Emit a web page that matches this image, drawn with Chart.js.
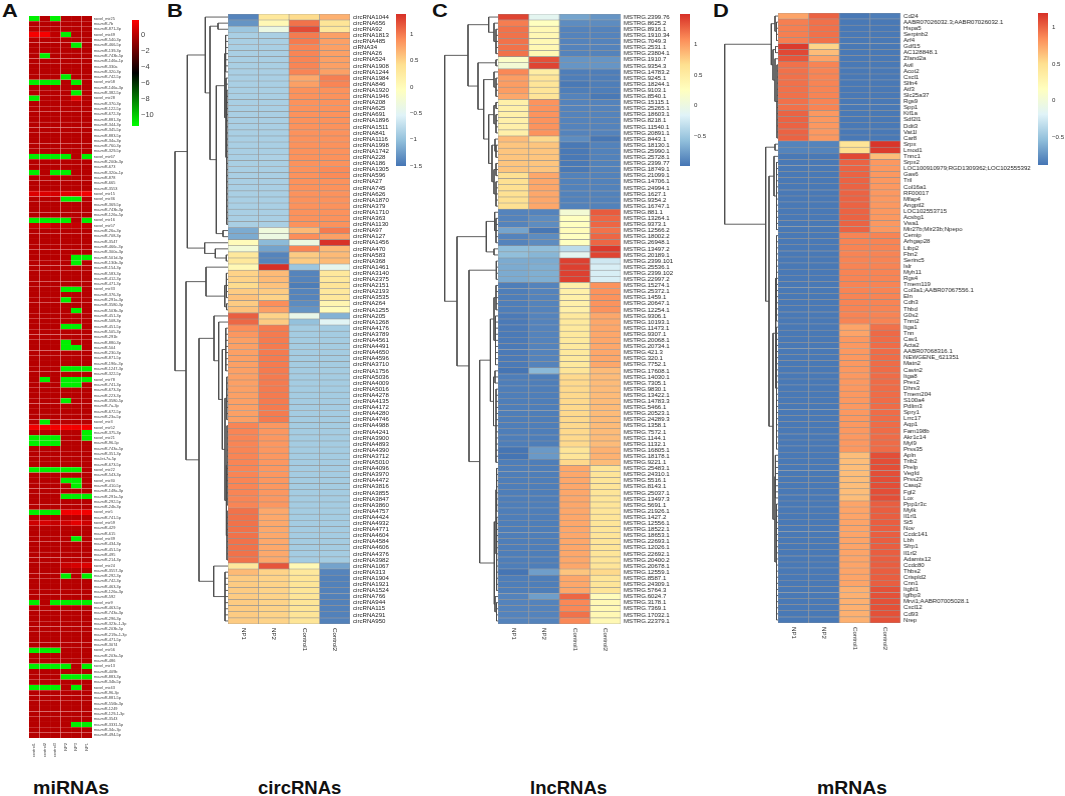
<!DOCTYPE html>
<html>
<head>
<meta charset="utf-8">
<title>miRNAs, circRNAs, lncRNAs, mRNAs heatmaps</title>
<script src="https://cdn.jsdelivr.net/npm/chart.js@4"></script>
<style>
  html, body { margin: 0; padding: 0; background: #fff; width: 1065px; height: 796px; overflow: hidden; }
  #page { position: relative; width: 1065px; height: 796px; font-family: "Liberation Sans", Arial, sans-serif; }
  canvas { position: absolute; }
  .letter { position: absolute; font-weight: bold; font-size: 17.5px; line-height: 1; color: #111; transform: scaleX(1.25); transform-origin: left top; }
  .title { position: absolute; font-weight: bold; font-size: 18.5px; line-height: 1; color: #111; transform-origin: left top; white-space: nowrap; }
</style>
</head>
<body>
<div id="page">
  <div class="letter" style="left:2px;top:3px">A</div>
  <div class="letter" style="left:167px;top:3px">B</div>
  <div class="letter" style="left:432px;top:3px">C</div>
  <div class="letter" style="left:713px;top:3px">D</div>
  <div class="title" style="left:33px;top:779px;transform:scaleX(1.06)">miRNAs</div>
  <div class="title" style="left:258px;top:779px">circRNAs</div>
  <div class="title" style="left:530px;top:779px">lncRNAs</div>
  <div class="title" style="left:817px;top:779px;transform:scaleX(1.05)">mRNAs</div>
</div>
<script>
// ---- panel A: miRNAs ----
const samplesA = ['control1', 'control2', 'control3', 'NP2', 'NP3', 'NP1'];
const rowsA = [
  'novel_mir25','rno-miR-7b','rno-miR-871-3p','novel_mir49','rno-miR-540-3p','rno-miR-466-5p','rno-miR-139-3p','rno-miR-743b-5p','rno-miR-146a-1p','rno-miR-330a',
  'rno-miR-320-3p','rno-miR-742-5p','novel_mir58','rno-miR-146a-3p','rno-miR-382-5p','novel_mir28','rno-miR-370-3p','rno-miR-122-5p','rno-miR-672-3p','rno-miR-881-3p',
  'rno-miR-344-3p','rno-miR-345-5p','rno-miR-883-5p','rno-miR-34a-3p','rno-miR-760-3p','rno-miR-329-5p','novel_mir67','rno-miR-200b-3p','rno-miR-673','rno-miR-320a-1p',
  'rno-miR-878','rno-miR-665','rno-miR-3553','novel_mir15','novel_mir36','rno-miR-369-5p','rno-miR-743b-3p','rno-miR-126a-5p','novel_mir16','novel_mir57',
  'rno-miR-26a-3p','rno-miR-708-3p','rno-miR-3547','rno-miR-466c-3p','rno-miR-300a-3p','rno-miR-501d-3p','rno-miR-130b-3p','rno-miR-154-3p','rno-miR-583-3p','rno-miR-412-3p',
  'rno-miR-471-3p','novel_mir33','rno-miR-376-3p','rno-miR-291a-3p','rno-miR-3580-3p','rno-miR-503b-3p','rno-miR-451-3p','rno-miR-508-3p','rno-miR-451-5p','rno-miR-505-3p',
  'rno-miR-291b','rno-miR-880-3p','rno-miR-504','rno-miR-230-3p','rno-miR-871-5p','rno-miR-196c-3p','rno-miR-1247-3p','rno-miR-322-5p','novel_mir78','rno-miR-741-3p',
  'rno-miR-673-3p','rno-miR-223-3p','rno-miR-3580-5p','rno-miR-7a-3p','rno-miR-672-5p','rno-miR-23a-5p','novel_mir3','novel_mir52','rno-miR-375-3p','novel_mir21',
  'rno-miR-96-5p','rno-miR-743a-5p','rno-miR-351-3p','rno-let-7a-5p','rno-miR-673-5p','novel_mir22','rno-miR-543-3p','novel_mir30','rno-miR-410-5p','rno-miR-148a-3p',
  'rno-miR-291a-5p','rno-miR-292-5p','rno-miR-24b-3p','novel_mir5','rno-miR-741-5p','novel_mir59','rno-miR-429','rno-miR-615','novel_mir39','rno-miR-434-3p',
  'rno-miR-451-5p','rno-miR-495','rno-miR-214-3p','novel_mir24','rno-miR-3557-3p','rno-miR-292-3p','rno-miR-742-3p','rno-miR-463-3p','rno-miR-126a-3p','rno-miR-592',
  'novel_mir9','rno-miR-463-5p','rno-miR-743a-3p','rno-miR-296-3p','rno-miR-323c-1-3p','rno-miR-203b-5p','rno-miR-219a-1-3p','rno-miR-471-5p','rno-miR-3074','novel_mir56',
  'rno-miR-203a-5p','rno-miR-486','novel_mir13','rno-miR-409b','rno-miR-883-3p','rno-miR-34b-5p','novel_mir43','rno-miR-96-3p','rno-miR-881-5p','rno-miR-556b-3p',
  'rno-miR-1249','rno-miR-129-1-3p','rno-miR-3543','rno-miR-3331-5p','rno-miR-34c-3p','rno-miR-494-5p'
];
const control1A = [
  -11,0,0,1.7,0,0,0,0,0,0, 0,0,-11,0,0,-11,0,0,0,0, 0,0,0,0,0,0,-11,0,0,-11, 0,0,0,1,0,0,0,0,-11,.5,
  0,0,0,0,0,0,0,0,0,0, 0,0,0,0,0,0,0,0,0,0, 0,0,0,0,0,0,0,0,0,0, 0,0,0,0,0,0,0,1.6,0,-11,
  -11,0,0,0,0,-11,0,0,0,0, 0,0,0,-11,0,.6,0,0,0,0, 0,0,0,0,0,0,0,0,0,0, -11,0,0,0,0,0,0,0,0,-11,
  0,0,-11,0,0,0,-11,0,0,0, 0,0,0,0,0,0
];
const control2A = [
  0,0,0,1.7,0,0,0,-11,0,0, 0,0,-11,0,0,0,0,0,0,0, 0,0,0,0,0,0,-11,0,0,0, 0,0,0,1,0,0,0,0,-11,1.2,
  0,0,0,0,0,0,0,0,0,0, 0,0,0,0,0,0,0,0,0,0, 0,0,0,0,0,0,0,0,-11,0, 0,0,0,0,0,0,-11,1.6,0,-11,
  -11,0,0,0,0,-11,0,0,0,0, 0,0,0,-11,0,.8,0,0,0,0, 0,0,0,0,0,0,0,0,0,0, 0,0,0,0,0,0,0,0,0,-11,
  0,0,-11,0,0,0,-11,0,0,0, 0,0,0,0,0,0
];
const control3A = [
  -11,0,0,.2,0,0,0,0,0,0, 0,0,-11,0,0,0,0,0,0,0, 0,0,0,0,0,0,-11,0,0,-11, 0,0,0,.8,0,0,0,0,-11,.3,
  0,0,0,0,0,0,0,0,0,0, 0,0,0,0,0,0,0,0,0,0, 0,0,0,0,0,0,0,0,0,0, 0,0,0,0,0,0,0,1.6,0,-11,
  -11,0,0,0,0,-11,0,0,0,0, 0,0,0,-11,0,.4,0,0,0,0, 0,0,0,0,0,0,0,0,0,0, -11,0,0,0,0,0,0,0,0,-11,
  0,0,-11,0,0,0,-11,0,0,0, 0,0,0,0,0,0
];
const np2A = [
  0,0,0,-11,0,0,0,0,0,0, 0,-11,0,0,0,0,0,0,0,0, 0,0,0,0,0,0,-11,0,0,-11, 0,0,0,1.2,-11,0,0,0,-11,.4,
  0,0,0,0,0,0,0,0,0,0, 0,-11,0,-11,0,0,0,0,-11,0, 0,-11,-11,0,0,0,-11,0,-11,-11, 0,0,-11,0,0,0,0,1.6,0,0,
  0,0,0,0,0,-11,0,-11,0,0, -11,0,0,1.5,0,.6,0,0,0,0, 0,0,0,.5,0,-11,0,0,0,0, -11,0,0,0,0,0,0,0,0,0,
  0,0,-11,0,-11,0,0,0,0,0, 0,0,0,0,0,0
];
const np3A = [
  0,0,0,0,0,-11,0,0,0,0, 0,0,-11,0,-11,1.2,0,0,0,0, 0,0,0,0,0,0,0,0,0,0, 0,0,0,1.3,-11,0,0,0,0,.4,
  0,0,0,0,0,-11,-11,0,0,0, 0,-11,0,0,0,-11,0,0,-11,0, 0,0,-11,0,0,0,-11,0,-11,-11, 0,0,0,0,0,0,0,1.6,0,0,
  0,0,0,0,0,-11,0,-11,-11,0, -11,0,0,1.6,0,1.2,0,0,-11,0, 0,0,0,.8,0,0,0,0,0,0, -11,0,0,0,0,0,0,0,0,0,
  0,0,0,0,-11,0,-11,0,0,0, 0,0,0,-11,0,0
];
const np1A = [
  0,0,0,0,0,0,0,0,0,0, 0,0,0,0,0,0,0,0,0,0, 0,0,0,0,0,0,-11,0,0,0, 0,0,0,1.6,0,0,0,0,-11,.4,
  0,0,0,0,0,-11,0,0,0,0, 0,0,0,0,0,0,0,0,0,0, 0,0,0,0,0,0,-11,0,-11,0, 0,0,0,0,0,0,0,1.6,-11,-11,
  0,0,0,0,0,0,0,0,0,0, -11,0,0,1.6,0,.6,0,0,0,0, 0,0,0,1,0,-11,0,0,0,0, -11,0,0,0,0,0,0,0,0,0,
  0,0,-11,0,-11,0,0,0,0,0, 0,0,0,-11,0,0
];

// ---- panel B: circRNAs ----
const samplesB = ['NP1', 'NP2', 'Control1', 'Control2'];
const rowsB = [
  'circRNA1044','circRNA656','circRNA92','circRNA1813','circRNA485','ciRNA34','circRNA26','circRNA524','circRNA1908','circRNA1244',
  'circRNA1984','circRNA846','circRNA1920','circRNA1946','circRNA208','circRNA625','circRNA691','circRNA1896','circRNA1511','circRNA841',
  'circRNA1116','circRNA1998','circRNA1742','circRNA228','circRNA186','circRNA1305','circRNA596','circRNA27','circRNA745','circRNA626',
  'circRNA1870','circRNA379','circRNA1710','circRNA363','circRNA1130','circRNA97','circRNA127','circRNA1456','circRNA470','circRNA583',
  'circRNA368','circRNA1461','circRNA3140','circRNA2375','circRNA2151','circRNA2193','circRNA3535','circRNA264','circRNA1255','circRNA205',
  'circRNA1268','circRNA4176','circRNA3789','circRNA4561','circRNA4491','circRNA4650','circRNA4596','circRNA3710','circRNA1756','circRNA5036',
  'circRNA4009','circRNA5016','circRNA4278','circRNA4135','circRNA4172','circRNA4280','circRNA4746','circRNA4988','circRNA4241','circRNA3900',
  'circRNA4893','circRNA4390','circRNA3712','circRNA5010','circRNA4096','circRNA3970','circRNA4472','circRNA3816','circRNA3855','circRNA3847',
  'circRNA3860','circRNA4757','circRNA4424','circRNA4932','circRNA4771','circRNA4604','circRNA4584','circRNA4606','circRNA4376','circRNA3982',
  'circRNA1067','circRNA313','circRNA1904','circRNA1921','circRNA1524','circRNA766','circRNA944','circRNA115','circRNA291','circRNA950'
];
const np1B = [
  -1.4,-1.3,-.95,-.87,-.87,-.87,-.87,-.87,-.87,-.87, -.87,-.87,-.87,-.87,-.87,-.87,-.87,-.87,-.87,-.87,
  -.87,-.87,-.87,-.87,-.87,-.87,-.87,-.87,-.87,-.87, -.87,-.87,-.87,-.87,-.87,-1.15,-1.15,0,-.25,.3,
  .3,.05,.5,.5,.45,.55,.6,.55,.6,1.15, 1.1,.9,.85,.8,.8,.8,.8,.8,.8,.8,
  .8,.8,.8,.8,.8,.8,.8,.95,.95,.95, .95,.95,.95,.95,.95,.95,.95,.95,.95,.95,
  .95,1.05,1.05,1.05,1.05,1.05,1.05,1.05,1.05,1.05, .3,.65,.55,.55,.55,.55,.55,.55,.55,.55
];
const np2B = [
  .3,.05,-.35,-.87,-.87,-.87,-.87,-.87,-.87,-.87, -.87,-.87,-.87,-.87,-.87,-.87,-.87,-.87,-.87,-.87,
  -.87,-.87,-.87,-.85,-.87,-.87,-.87,-.87,-.87,-.87, -.87,-.87,-.87,-.87,-.87,-.3,-.35,-1.05,-1.2,-1.4,
  -1.4,1.39,.65,.65,.6,.55,.5,.9,.8,.5, .55,1,1,1,1,1,1,1,1,1,
  1,1,1,1,1,1,1,.85,.85,.85, .85,.85,.85,.85,.85,.85,.85,.85,.85,.85,
  .85,.75,.75,.75,.75,.75,.75,.75,.75,.75, 1.2,.5,.5,.5,.5,.5,.5,.5,.5,.5
];
const control1B = [
  .45,1.05,1.25,1,1,.95,.95,.95,.95,.95, .75,.8,.88,.88,.88,.88,.88,.88,.88,.88,
  .88,.88,.88,.88,.88,.88,.88,.88,.88,.88, .88,.88,.88,.88,.88,.65,.9,-.35,.95,.55,
  .55,-.95,-1.4,-1.4,-1.45,-1.4,-1.4,-1.35,-1.3,-.4, -1,-.9,-.9,-.9,-.9,-.9,-.9,-.9,-.9,-.9,
  -.9,-.9,-.9,-.9,-.9,-.9,-.9,-.9,-.9,-.9, -.9,-.9,-.9,-.9,-.9,-.9,-.9,-.9,-.9,-.9,
  -.9,-.9,-.9,-.9,-.9,-.9,-.9,-.9,-.9,-.9, .05,.3,.35,.35,.35,.35,.35,.35,.35,.35
];
const control2B = [
  .7,.35,.3,.8,.8,.8,.8,.8,.8,.8, .98,.95,.88,.88,.88,.88,.88,.88,.88,.88,
  .88,.88,.88,.88,.88,.92,.92,.88,.88,.88, .88,.88,.88,.88,.88,1,.8,1.38,.65,.65,
  .65,-.45,.3,.3,.35,.3,.3,.1,0,-1.1, -.5,-.9,-.9,-.9,-.9,-.9,-.9,-.9,-.9,-.9,
  -.9,-.9,-.9,-.9,-.9,-.9,-.9,-.9,-.9,-.9, -.9,-.9,-.9,-.9,-.9,-.9,-.9,-.9,-.9,-.9,
  -.9,-.9,-.9,-.9,-.9,-.9,-.9,-.9,-.9,-.9, -1.2,-1.4,-1.42,-1.42,-1.42,-1.42,-1.42,-1.42,-1.42,-1.42
];
const treeB = [53,
  [40.7,
    [22.7, 0,
      [18, [10, 1, 2],
        [11.7,
          [3.2, [2.4, 3,4,5,6,7,8,9],
            [2, 10, 11, [1.2, 12,13,14,15,16,17,18,19,20,21,22,23,24,25,26,27,28,29,30,31,32,33,34]]],
          [5, 35, 36]]]],
    [23.3, 37, [12.7, 38, [1.7, 39, 40]]]],
  [42,
    [22, 41, [3.2, [1.6, 42,43,44,45,46], [1.4, 47, 48]]],
    [29,
      [14, 49,
        [9.3, 50,
          [5.7, [2.2, 51,52,53,54,55,56,57,58],
            [3, [1.2, 59,60,61,62,63,64,65,66],
              [1.6, [1, 67,68,69,70,71,72,73,74,75,76,77,78,79,80], [1, 81,82,83,84,85,86,87,88,89]]]]]],
      [14.3, 90, [3, 91,92,93,94,95,96,97,98,99]]]]
];

// ---- panel C: lncRNAs ----
const samplesC = ['NP1', 'NP2', 'Control1', 'Control2'];
const rowsC = [
  'MSTRG.2399.76','MSTRG.8625.2','MSTRG.8916.1','MSTRG.1910.34','MSTRG.7049.3','MSTRG.2531.1','MSTRG.23804.1','MSTRG.1910.7','MSTRG.9354.3','MSTRG.14783.2',
  'MSTRG.9245.1','MSTRG.18244.1','MSTRG.9103.1','MSTRG.8540.1','MSTRG.15115.1','MSTRG.25265.1','MSTRG.18603.1','MSTRG.8218.1','MSTRG.11540.1','MSTRG.20891.1',
  'MSTRG.8443.1','MSTRG.18130.1','MSTRG.25990.1','MSTRG.25728.1','MSTRG.2399.77','MSTRG.18749.1','MSTRG.21099.1','MSTRG.14706.1','MSTRG.24994.1','MSTRG.1627.1',
  'MSTRG.9354.2','MSTRG.16747.1','MSTRG.881.1','MSTRG.13264.1','MSTRG.9373.1','MSTRG.12566.2','MSTRG.18002.2','MSTRG.26948.1','MSTRG.13497.2','MSTRG.20189.1',
  'MSTRG.2399.101','MSTRG.25536.1','MSTRG.2399.102','MSTRG.22997.2','MSTRG.15274.1','MSTRG.25372.1','MSTRG.1459.1','MSTRG.20647.1','MSTRG.12254.1','MSTRG.9306.1',
  'MSTRG.10193.1','MSTRG.11473.1','MSTRG.9307.1','MSTRG.20068.1','MSTRG.20734.1','MSTRG.421.3','MSTRG.320.1','MSTRG.7752.1','MSTRG.17608.1','MSTRG.14030.1',
  'MSTRG.7305.1','MSTRG.9830.1','MSTRG.13422.1','MSTRG.14783.3','MSTRG.5466.1','MSTRG.20523.1','MSTRG.24289.3','MSTRG.1358.1','MSTRG.7572.1','MSTRG.1144.1',
  'MSTRG.1132.1','MSTRG.16805.1','MSTRG.18178.1','MSTRG.9221.1','MSTRG.25483.1','MSTRG.24310.1','MSTRG.5516.1','MSTRG.8143.1','MSTRG.25037.1','MSTRG.13497.3',
  'MSTRG.5691.1','MSTRG.21926.1','MSTRG.1427.2','MSTRG.12556.1','MSTRG.18522.1','MSTRG.18653.1','MSTRG.22693.1','MSTRG.12026.1','MSTRG.22692.1','MSTRG.20400.2',
  'MSTRG.20678.1','MSTRG.12559.1','MSTRG.8587.1','MSTRG.24309.1','MSTRG.5764.3','MSTRG.6024.7','MSTRG.3178.1','MSTRG.7369.1','MSTRG.17032.1','MSTRG.22379.1'
];
const np1C = [
  1.4,1.15,1.2,1.2,1.2,1.2,1.2,.2,.1,1.1, 1,1,1,.95,.45,.45,.45,.45,.45,.45,
  .85,.8,.8,.8,.8,.8,.65,.65,.65,.65, .65,.65,-.9,-.9,-.9,-.72,-.9,-.9,-.57,-.57,
  -.68,-.68,-.68,-.68,-.93,-.93,-.93,-.93,-.93,-.95, -.95,-.95,-.95,-.95,-.95,-.95,-.95,-.95,-.98,-.93,
  -.93,-.93,-.93,-.93,-.93,-.93,-.93,-.93,-.93,-.93, -.93,-.98,-.98,-.93,-.93,-.93,-.93,-.93,-.93,-.93,
  -.93,-.93,-.93,-.93,-.93,-.93,-.93,-.93,-.93,-.93, -.93,-.98,-.93,-.93,-.93,-.9,-.9,-.9,-.9,-.9
];
const np2C = [
  -.1,.25,.35,.35,.35,.35,.35,1.35,1.4,.5, .6,.6,.6,.6,1.05,1.05,1.05,1.05,1.05,1.05,
  .7,.8,.8,.8,.8,.8,.95,.95,.95,.95, .95,.95,-.9,-.85,-.85,-.97,-.85,-.85,-.57,-.62,
  -.68,-.66,-.66,-.66,-.9,-.9,-.9,-.9,-.9,-.9, -.9,-.9,-.9,-.9,-.9,-.9,-.9,-.9,-.6,-.93,
  -.93,-.93,-.93,-.93,-.93,-.93,-.93,-.93,-.93,-.93, -.93,-.78,-.78,-.93,-.93,-.93,-.93,-.93,-.93,-.93,
  -.93,-.93,-.93,-.93,-.93,-.93,-.93,-.93,-.93,-.93, -.93,-.75,-.93,-.93,-.93,-.75,-.9,-.9,-.9,-.9
];
const control1C = [
  -.72,-.85,-.9,-.9,-.9,-.9,-.9,-.8,-.8,-.93, -.93,-.96,-.93,-.9,-.9,-.9,-.9,-.9,-.9,-.9,
  -.85,-.96,-.96,-.96,-.96,-.96,-.91,-.91,-.91,-.91, -.91,-.91,.1,.25,.25,.3,.25,.25,-.35,-.1,
  1.42,1.42,1.42,1.42,.45,.45,.45,.45,.45,.55, .55,.55,.55,.55,.55,.55,.55,.55,.6,.7,
  .7,.7,.7,.7,.7,.7,.7,.7,.7,.7, .7,.6,.6,.7,.95,.95,.95,.95,.95,.95,
  .95,.95,.95,.95,.95,.95,.95,.95,.95,.95, .95,.8,.95,.95,.95,1.25,1.1,1.1,1.2,1.1
];
const control2C = [
  -.8,-.85,-.9,-.9,-.9,-.9,-.9,-.8,-.8,-.93, -.93,-.93,-.93,-.96,-.9,-.9,-.9,-.9,-.9,-.9,
  -.97,-.91,-.91,-.91,-.91,-.91,-.91,-.91,-.91,-.91, -.91,-.91,1.3,1.25,1.25,1.2,1.25,1.25,1.45,1.4,
  -.25,-.2,-.2,-.2,1.05,1.05,1.05,1.05,1.05,.95, .95,.95,.95,.95,.95,.95,.95,.95,.85,.85,
  .85,.85,.85,.85,.85,.85,.85,.85,.85,.85, .85,.9,.9,.85,.6,.6,.6,.6,.6,.6,
  .6,.6,.6,.6,.6,.6,.6,.6,.6,.6, .6,.7,.6,.6,.6,.3,.35,.35,.35,.35
];
const treeC = [53.3,
  [30,
    [9.3, 0, [4, 1, [2, 2,3,4,5,6]]],
    [20, [2, 7, 8],
      [14.3,
        [4, 9, [2, 10,11,12,13]],
        [9.3,
          [4, [2, 14, 15], [2, 16,17,18,19]],
          [6,
            [3, 20, [2, 21,22,23]],
            [4, [2, 24,25,26], [2, 27,28,29,30,31]]]]]]],
  [41,
    [11.7, [3.3, 32, [2, 33,34,35,36,37]], [4, 38, 39]],
    [29,
      [1.7, 40,41,42,43],
      [18.3,
        [7.6,
          [4, [2, 44,45,46,47,48], [2.5, 49,50,51,52,53,54,55,56,57]],
          [4.5, [3, 58,59,60], [2, 61,62,63,64,65,66,67,68,69,70,71,72,73]]],
        [3.7,
          [2, [1.4, 74,75,76,77,78,79,80,81], [1.4, 82,83,84,85,86,87,88,89,90,91,92,93,94]],
          [3, 95, [1.5, 96,97,98,99]]]]]]
];

// ---- panel D: mRNAs ----
const samplesD = ['NP1', 'NP2', 'Control1', 'Control2'];
const rowsD = [
  'Cd24','AABR07026032.3;AABR07026032.1','Hspa5','Serpinb2','Arf4','Gdf15','AC128848.1','Zfand2a','Avil','Acot2',
  'Cxcl1','Slfn4','Atf3','Slc25a37','Rgs9','Spp1','Kif1a','Sdf2l1','Ddit3','Vat1l',
  'Car8','Srpx','Lmod1','Tnnc1','Srpx2','LOC100910979;RGD1309362;LOC102555392','Gas6','Tril','Col16a1','RF00017',
  'Mfap4','Angptl2','LOC102553715','Acsbg1','Vwa1','Mir27b;Mir23b;Npepo','Cemip','Arhgap28','Ltbp2','Fbn2',
  'Serinc5','Islr','Myh11','Rgs4','Tmem119','Col3a1;AABR07067556.1','Eln','Cdh3','Thbd','G0s2',
  'Tnnt2','Itga1','Tnn','Cav1','Acta2','AABR07068316.1','NEWGENE_621351','Matn2','Cavin2','Itga8',
  'Prex2','Dhrs3','Tmem204','S100a4','Pdlim3','Spry1','Lrrc17','Aqp1','Fam198b','Akr1c14',
  'Myl9','Prss35','Apln','Trib2','Prelp','Vegfd','Prss23','Casq2','Fgl2','Lox',
  'Ppp1r3c','Mylk','Il1rl1','St5','Nov','Ccdc141','Lbh','Sfrp1','Il1rl2','Adamts12',
  'Ccdc80','Thbs2','Crispld2','Cnn1','Itgbl1','Igfbp3','Mrvi1;AABR07005028.1','Cxcl12','Cd93','Nrep'
];
const np1D = [
  .75,.9,.9,.9,.9,1.15,1.1,1.05,.95,.95, .95,.95,.95,.95,.95,.95,1,1,1,1,
  1,-.8,-.8,-.85,-.85,-.85,-.85,-.85,-.85,-.85, -.85,-.85,-.85,-.85,-.85,-.85,-.85,-.85,-.85,-.85,
  -.85,-.85,-.85,-.85,-.85,-.85,-.85,-.85,-.85,-.85, -.85,-.85,-.85,-.85,-.85,-.85,-.85,-.85,-.85,-.85,
  -.85,-.85,-.85,-.85,-.85,-.85,-.85,-.85,-.85,-.85, -.85,-.85,-.85,-.85,-.85,-.85,-.85,-.85,-.85,-.85,
  -.85,-.85,-.85,-.85,-.85,-.85,-.85,-.85,-.85,-.85, -.85,-.85,-.85,-.85,-.85,-.85,-.85,-.85,-.85,-.85
];
const np2D = [
  1,.95,.95,.95,.95,.55,.65,.75,.88,.88, .88,.88,.88,.88,.88,.88,.8,.8,.8,.8,
  .8,-.8,-.8,-.85,-.85,-.85,-.85,-.85,-.85,-.85, -.85,-.85,-.85,-.85,-.85,-.85,-.85,-.85,-.85,-.85,
  -.85,-.85,-.85,-.85,-.85,-.85,-.85,-.85,-.85,-.85, -.85,-.85,-.85,-.85,-.85,-.85,-.85,-.85,-.85,-.85,
  -.85,-.85,-.85,-.85,-.85,-.85,-.85,-.85,-.85,-.85, -.85,-.85,-.85,-.85,-.85,-.85,-.85,-.85,-.85,-.85,
  -.85,-.85,-.85,-.85,-.85,-.85,-.85,-.85,-.85,-.85, -.85,-.85,-.85,-.85,-.85,-.85,-.85,-.85,-.85,-.85
];
const control1D = [
  -.85,-.85,-.85,-.85,-.85,-.85,-.85,-.85,-.85,-.85, -.85,-.85,-.85,-.85,-.85,-.85,-.85,-.85,-.85,-.85,
  -.85,.45,.5,1.1,1,1,1,1,1,1, 1,1,1,1,1,1,.88,.88,.88,.88,
  .88,.88,.88,.88,.88,.88,.88,.88,.88,.88, .88,.75,.75,.8,.8,.8,.8,.8,.8,.8,
  .8,.8,.8,.8,.8,.8,.8,.8,.8,.8, .8,.8,.65,.65,.65,.65,.65,.65,.65,.65,
  .75,.75,.75,.75,.75,.75,.75,.75,.75,.75, .75,.75,.75,.75,.7,.7,.7,.7,.7,.7
];
const control2D = [
  -.83,-.85,-.85,-.85,-.85,-.85,-.85,-.85,-.85,-.85, -.85,-.85,-.85,-.85,-.85,-.85,-.85,-.85,-.85,-.85,
  -.85,1.17,1.15,.65,.8,.8,.8,.8,.8,.8, .8,.8,.8,.8,.8,.8,.88,.88,.88,.88,
  .88,.88,.88,.88,.88,.88,.88,.88,.88,.88, .88,.95,.98,.97,.97,.97,.97,.97,.97,.97,
  .97,.97,.97,.97,.97,.97,.97,.97,.97,.97, .97,.97,1.08,1.08,1.08,1.08,1.08,1.08,1.08,1.08,
  1.02,1.02,1.02,1.02,1.02,1.02,1.02,1.02,1.02,1.02, 1.02,1.02,1.02,1.02,1.07,1.07,1.07,1.07,1.07,1.07
];
const treeD = [53.3,
  [6.7,
    [3, 0, [1.5, 1,2,3,4]],
    [5, [2.5, 5, 6], [3, 7, [1, 8,9,10,11,12,13,14,15,16,17,18,19,20]]]],
  [12.3,
    [3, 21, 22],
    [9,
      [4, 23, [1.5, 24,25,26,27,28,29,30,31,32,33,34,35]],
      [5,
        [2.3,
          [1.5, 36,37,38,39,40,41,42,43,44,45,46,47,48,49,50],
          [1.5, 51,52,53,54,55,56,57,58,59,60,61,62,63,64,65,66,67,68,69,70,71]],
        [3,
          [2.6, 72,73,74,75,76,77,78,79],
          [1.5, 80,81,82,83,84,85,86,87,88,89,90,91,92,93,94,95,96,97,98,99]]]]]
];

// colour ramps
const ramp7 = ['#4575B4', '#91BFDB', '#E0F3F8', '#FFFFBF', '#FEE090', '#FC8D59', '#D73027'];
const rampGreenRed = ['#00FF00', '#000000', '#FF0000'];

Chart.defaults.font.family = '"Liberation Sans", Arial, sans-serif';
Chart.defaults.animation = false;

function hexToRgb(hex) {
  return [1, 3, 5].map(i => parseInt(hex.slice(i, i + 2), 16));
}

function rampColor(v, ramp, min, max) {
  const t = Math.min(1, Math.max(0, (v - min) / (max - min))) * (ramp.length - 1);
  const i = Math.min(ramp.length - 2, Math.floor(t));
  const a = hexToRgb(ramp[i]), b = hexToRgb(ramp[i + 1]);
  const c = a.map((x, k) => Math.round(x + (b[k] - x) * (t - i)));
  return `rgb(${c[0]},${c[1]},${c[2]})`;
}

function addCanvas(left, top, width, height) {
  const c = document.createElement('canvas');
  c.width = width;
  c.height = height;
  c.style.left = left + 'px';
  c.style.top = top + 'px';
  c.style.width = width + 'px';
  c.style.height = height + 'px';
  document.getElementById('page').appendChild(c);
  return c;
}

// heatmap: every cell is a floating bar across one sample column
function drawHeatmap(p) {
  const padTop = 10, padBottom = 50;
  const canvas = addCanvas(p.left, p.top - padTop, p.width + p.labelWidth, p.height + padTop + padBottom);
  const sampleLabels = {
    id: 'sampleLabels',
    afterDatasetsDraw(chart) {
      const ctx = chart.ctx, x = chart.scales.x, y0 = chart.chartArea.bottom + p.sampleGap;
      ctx.save();
      ctx.font = `${p.sampleFont}px "Liberation Sans", Arial, sans-serif`;
      ctx.fillStyle = p.sampleColor;
      ctx.textBaseline = 'middle';
      p.samples.forEach((s, i) => {
        ctx.save();
        ctx.translate(x.getPixelForValue(i + 0.5), y0);
        ctx.rotate(p.sampleRotate);
        ctx.textAlign = p.sampleRotate > 0 ? 'left' : 'right';
        ctx.fillText(s, 0, 0);
        ctx.restore();
      });
      ctx.restore();
    }
  };
  new Chart(canvas, {
    type: 'bar',
    plugins: [sampleLabels],
    data: {
      labels: p.rows,
      datasets: p.columns.map((values, c) => ({
        label: p.samples[c],
        data: values.map(() => [c, c + 1]),
        backgroundColor: values.map(v => rampColor(v, p.ramp, p.min, p.max)),
        borderColor: p.cellBorder,
        borderWidth: p.cellBorderWidth,
        borderSkipped: false,
        grouped: false,
        barPercentage: 1,
        categoryPercentage: 1
      }))
    },
    options: {
      indexAxis: 'y',
      responsive: false,
      layout: { padding: { top: padTop, bottom: padBottom, left: 0, right: 0 } },
      plugins: { legend: { display: false }, tooltip: { enabled: false } },
      scales: {
        x: { type: 'linear', min: 0, max: p.columns.length, display: false },
        y: {
          type: 'category',
          position: 'right',
          grid: { display: false, drawTicks: false },
          border: { display: false },
          ticks: { autoSkip: false, padding: p.tickPadding, color: p.tickColor, font: { size: p.tickFont } },
          afterFit(scale) { scale.width = p.labelWidth; }
        }
      }
    }
  });
}

// walk a tree [height, child, child...]; a number is a leaf row
function treeSegments(node, points) {
  if (typeof node === 'number') return { h: 0, y: node + 0.5 };
  const h = node[0];
  const kids = node.slice(1).map(k => treeSegments(k, points));
  const y1 = kids[0].y, y2 = kids[kids.length - 1].y;
  kids.forEach(k => {
    points.push({ x: k.h, y: k.y }, { x: h, y: k.y }, { x: NaN, y: NaN });
  });
  points.push({ x: h, y: y1 }, { x: h, y: y2 }, { x: NaN, y: NaN });
  return { h: h, y: (y1 + y2) / 2 };
}

function drawDendrogram(tree, rowCount, right, top, height) {
  const width = 56;
  const canvas = addCanvas(right - width, top, width, height);
  const points = [];
  treeSegments(tree, points);
  new Chart(canvas, {
    type: 'scatter',
    data: {
      datasets: [{
        data: points,
        showLine: true,
        spanGaps: false,
        borderColor: '#4d4d4d',
        borderWidth: 0.9,
        pointRadius: 0
      }]
    },
    options: {
      responsive: false,
      layout: { padding: 0 },
      plugins: { legend: { display: false }, tooltip: { enabled: false } },
      scales: {
        x: { type: 'linear', reverse: true, min: 0, max: width, display: false },
        y: { type: 'linear', reverse: true, min: 0, max: rowCount, display: false }
      }
    }
  });
}

// colour key: one floating bar over the whole range, filled with the ramp
function drawColorKey(k) {
  const pad = 10, labelWidth = 30;
  const canvas = addCanvas(k.left, k.top - pad, k.width + labelWidth, k.height + pad * 2);
  new Chart(canvas, {
    type: 'bar',
    data: {
      labels: [''],
      datasets: [{
        data: [[k.min, k.max]],
        barPercentage: 1,
        categoryPercentage: 1,
        backgroundColor(ctx) {
          const s = ctx.chart.scales.y;
          const y0 = s.getPixelForValue(k.min), y1 = s.getPixelForValue(k.max);
          // the scale has no pixels yet on the first pass, before layout
          if (!isFinite(y0) || !isFinite(y1)) return k.ramp[0];
          const g = ctx.chart.ctx.createLinearGradient(0, y0, 0, y1);
          k.ramp.forEach((c, i) => g.addColorStop(i / (k.ramp.length - 1), c));
          return g;
        }
      }]
    },
    options: {
      responsive: false,
      layout: { padding: { top: pad, bottom: pad, left: 0, right: 0 } },
      plugins: { legend: { display: false }, tooltip: { enabled: false } },
      scales: {
        x: { display: false },
        y: {
          type: 'linear',
          position: 'right',
          min: k.min,
          max: k.max,
          grid: { display: false, drawTicks: false },
          border: { display: false },
          ticks: {
            stepSize: k.step,
            includeBounds: false,
            padding: k.tickPadding,
            color: k.tickColor,
            font: { size: k.tickFont },
            callback: v => String(v).replace('-', '\u2212')
          },
          afterFit(scale) { scale.width = labelWidth; }
        }
      }
    }
  });
}

const minA = -11.4, maxA = 1.9;
const minB = -1.5, maxB = 1.39;
const minC = -0.98, maxC = 1.49;
const minD = -0.87, maxD = 1.19;

drawHeatmap({
  left: 29, top: 16, width: 63, height: 722, labelWidth: 60,
  rows: rowsA, samples: samplesA, columns: [control1A, control2A, control3A, np2A, np3A, np1A],
  ramp: rampGreenRed, min: minA, max: maxA,
  cellBorder: 'rgba(255,215,215,0.55)', cellBorderWidth: 0.3,
  tickFont: 3.9, tickPadding: 1.7, tickColor: '#444',
  sampleFont: 4, sampleColor: '#444', sampleGap: 5, sampleRotate: -Math.PI / 2
});
drawColorKey({ left: 132, top: 20, width: 7, height: 106, min: minA, max: maxA, ramp: rampGreenRed, step: 2, tickPadding: 2, tickFont: 7.5, tickColor: '#444' });

const commonHeat = {
  labelWidth: 70, cellBorder: '#949494', cellBorderWidth: 0.6,
  tickFont: 6.1, tickPadding: 3, tickColor: '#222',
  sampleFont: 6.1, sampleColor: '#222', sampleGap: 4, sampleRotate: Math.PI / 2
};

drawHeatmap(Object.assign({}, commonHeat, {
  left: 228.3, top: 14, width: 122, height: 610,
  rows: rowsB, samples: samplesB, columns: [np1B, np2B, control1B, control2B],
  ramp: ramp7, min: minB, max: maxB
}));
drawDendrogram(treeB, rowsB.length, 228.3, 14, 610);
drawColorKey({ left: 396, top: 14, width: 10, height: 152, min: minB, max: maxB, ramp: ramp7, step: 0.5, tickPadding: 4, tickFont: 6.1, tickColor: '#333' });

drawHeatmap(Object.assign({}, commonHeat, {
  left: 498.3, top: 14, width: 122.4, height: 610,
  rows: rowsC, samples: samplesC, columns: [np1C, np2C, control1C, control2C],
  ramp: ramp7, min: minC, max: maxC
}));
drawDendrogram(treeC, rowsC.length, 498.3, 14, 610);
drawColorKey({ left: 680, top: 14, width: 10, height: 152, min: minC, max: maxC, ramp: ramp7, step: 0.5, tickPadding: 4, tickFont: 6.1, tickColor: '#333' });

drawHeatmap(Object.assign({}, commonHeat, {
  left: 778.3, top: 12.7, width: 122.4, height: 610.3, labelWidth: 135,
  rows: rowsD, samples: samplesD, columns: [np1D, np2D, control1D, control2D],
  ramp: ramp7, min: minD, max: maxD
}));
drawDendrogram(treeD, rowsD.length, 778.3, 12.7, 610.3);
drawColorKey({ left: 1038, top: 12.7, width: 10, height: 152.3, min: minD, max: maxD, ramp: ramp7, step: 0.5, tickPadding: 4, tickFont: 6.1, tickColor: '#333' });
</script>
</body>
</html>
